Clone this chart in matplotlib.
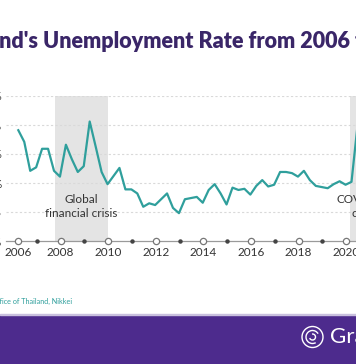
import numpy as np
import matplotlib.pyplot as plt
from matplotlib.patches import Rectangle, Arc

plt.rcParams['font.family'] = ['Lato', 'DejaVu Sans']

# quarterly unemployment rate (%), 2006 Q1 - 2020 Q2
rate = [1.91, 1.71, 1.21, 1.27, 1.59, 1.59, 1.21, 1.11,
        1.66, 1.41, 1.19, 1.29, 2.06, 1.63, 1.19, 0.98,
        1.12, 1.26, 0.89, 0.89, 0.82, 0.59, 0.65, 0.62,
        0.72, 0.82, 0.57, 0.48, 0.72, 0.74, 0.76, 0.66,
        0.88, 0.98, 0.82, 0.63, 0.92, 0.88, 0.90, 0.80,
        0.95, 1.05, 0.94, 0.97, 1.19, 1.19, 1.17, 1.11,
        1.21, 1.05, 0.95, 0.93, 0.91, 0.98, 1.03, 0.97,
        1.02, 1.98]
years = list(range(2006, 2021))
ytick_vals = [0, 0.5, 1.0, 1.5, 2.0, 2.5]
ytick_labels = ['0%', '0.5%', '1%', '1.5%', '2%', '2.5%']
title = "Thailand's Unemployment Rate from 2006 to 2020"
source = "Source: National Statistical Office of Thailand, Nikkei"

teal = '#2f9f9c'
purple = '#4d2b8d'
dark = '#333333'

fig = plt.figure(figsize=(3.56, 3.64), dpi=100)
W, H = 356, 364

# axes run past the right edge of the picture
ax = fig.add_axes([6 / W, (H - 241) / H, (420 - 6) / W, 145 / H])
x = np.arange(len(rate))
x0 = 18.3
dx = 5.95
ax.set_xlim((6 - x0) / dx, (420 - x0) / dx)
ax.set_ylim(0, 2.5)

# shaded periods
ax.axvspan((55 - x0) / dx, (107.5 - x0) / dx, color='#e4e4e4', lw=0, zorder=0)
ax.axvspan((350 - x0) / dx, 70, color='#e4e4e4', lw=0, zorder=0)

for v in ytick_vals[1:]:
    ax.axhline(v, color='#d9d9d9', lw=0.8, ls=(0, (2, 2)), zorder=1)

ax.plot(x, rate, color=teal, lw=1.6, zorder=3)

# x axis with circle / dot markers
ax.axhline(0, color='#9a9a9a', lw=0.9, zorder=2, clip_on=False)
tick_pos = [0 if y == 2006 else 4 * (y - 2006) - 0.9 for y in years]
for y, p in zip(years, tick_pos):
    if y % 2 == 0:
        ax.plot(p, 0, 'o', ms=4.5, mfc='white', mec='#777777', mew=0.9,
                zorder=4, clip_on=False)
        ax.text(p, -0.2, str(y), ha='center', va='center', fontsize=8.5,
                color=dark)
    else:
        ax.plot(p, 0, 'o', ms=2.2, color='#444444', zorder=4, clip_on=False)

for spine in ax.spines.values():
    spine.set_visible(False)
ax.set_xticks([])
ax.set_yticks(ytick_vals)
ax.set_yticklabels(ytick_labels, fontsize=8.5, color=dark)
ax.tick_params(axis='y', length=0, pad=3)

ax.text((81 - x0) / dx, 0.6, 'Global\nfinancial crisis', ha='center',
        va='center', fontsize=8.5, color=dark, linespacing=1.3)
ax.text((364 - x0) / dx, 0.6, 'COVID-19\ncrisis', ha='center',
        va='center', fontsize=8.5, color=dark, linespacing=1.3)

# title, shifted so that only part of it is in view
t = fig.text(0, 1 - 42 / H, title, ha='left', va='center', fontsize=15.5,
             fontweight='heavy', color='#3a2668')
r = fig.canvas.get_renderer()
pre = fig.text(0, 0, "Thaila", fontsize=15.5, fontweight='heavy')
w = pre.get_window_extent(r).width
pre.remove()
t.set_x(-(w + 1) / W)

# source
fig.text(72 / W, 1 - 301.5 / H, source, ha='right', va='center',
         fontsize=5.2, color=teal)

# footer band with logo
fig.patches.append(Rectangle((0, 0), 1, (H - 315) / H, transform=fig.transFigure,
                             color=purple, zorder=0))
fig.patches.append(Rectangle((0, (H - 315) / H), 1, 1.5 / H,
                             transform=fig.transFigure, color='#c9c0de', zorder=0))
cx, cy = 312.5 / W, 1 - 337 / H
fig.patches.append(Arc((cx, cy), 21 / W, 21 / H,
                       transform=fig.transFigure, color='white', lw=1.0))
fig.patches.append(Arc((cx, cy), 13 / W, 13 / H, theta1=30, theta2=300,
                       transform=fig.transFigure, color='white', lw=1.0))
fig.patches.append(Arc((cx, cy), 6 / W, 6 / H, theta1=200, theta2=100,
                       transform=fig.transFigure, color='white', lw=1.0))
fig.text(330 / W, cy, 'Grafana', ha='left', va='center', fontsize=16,
         color='white')

fig.savefig('out.png', dpi=100)
